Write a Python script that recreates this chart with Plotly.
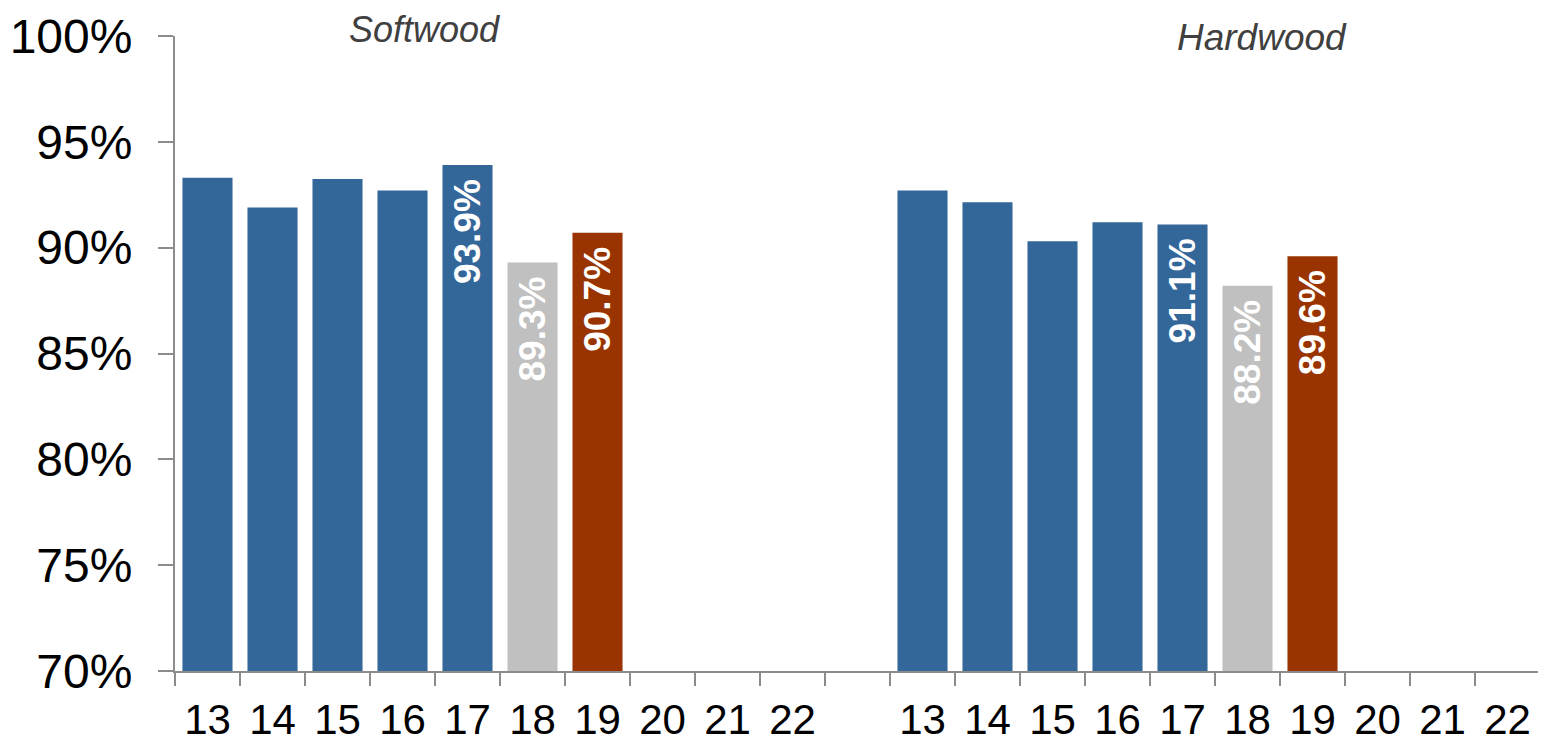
import plotly.graph_objects as go

# years shown on the axis for each group
years = ["13", "14", "15", "16", "17", "18", "19", "20", "21", "22"]

# share (%) per year, None = no bar yet
softwood = [93.3, 91.9, 93.25, 92.7, 93.9, 89.3, 90.7, None, None, None]
hardwood = [92.7, 92.15, 90.3, 91.2, 91.1, 88.2, 89.6, None, None, None]

# which bars get a value label
labelled = ["17", "18", "19"]

# y axis ticks
y_ticks = [70, 75, 80, 85, 90, 95, 100]

BLUE = "#336699"
GREY = "#C0C0C0"
RUST = "#993300"
bar_colors = [BLUE] * 5 + [GREY, RUST] + [BLUE] * 3

FONT = "Liberation Sans, Arial, sans-serif"
AXIS = "#8c8c8c"

fig = go.Figure()

# softwood on slots 0..9, a blank slot, hardwood on 11..20
sw_x = list(range(len(years)))
hw_x = [i + len(years) + 1 for i in range(len(years))]

for xs, vals in [(sw_x, softwood), (hw_x, hardwood)]:
    fig.add_trace(go.Bar(x=xs, y=vals, marker_color=bar_colors,
                         marker_line_width=0, showlegend=False))
    for xv, yr, v in zip(xs, years, vals):
        if yr in labelled and v is not None:
            fig.add_annotation(x=xv, y=v, text=f"<b>{v:.1f}%</b>", textangle=-90,
                               showarrow=False, yanchor="top", yshift=-12,
                               font=dict(family=FONT, size=37, color="white"))

# group titles
fig.add_annotation(x=0.183, y=1.011, xref="paper", yref="paper", text="<i>Softwood</i>",
                   xanchor="center", yanchor="middle", showarrow=False,
                   font=dict(family=FONT, size=36, color="#404040"))
fig.add_annotation(x=0.796, y=0.998, xref="paper", yref="paper", text="<i>Hardwood</i>",
                   xanchor="center", yanchor="middle", showarrow=False,
                   font=dict(family=FONT, size=37, color="#404040"))

fig.update_xaxes(range=[-0.5, 20.5], tickvals=sw_x + hw_x, ticktext=years + years,
                 ticks="", showgrid=False, zeroline=False, automargin=False,
                 showline=True, linecolor=AXIS, linewidth=2,
                 ticklabelstandoff=11,
                 tickfont=dict(family=FONT, size=42, color="black"),
                 minor=dict(tick0=-0.5, dtick=1, ticks="outside", ticklen=13,
                            tickcolor=AXIS, tickwidth=2, showgrid=False))
fig.update_yaxes(range=[70, 100], tickvals=y_ticks, ticktext=[f"{t}%" for t in y_ticks],
                 showgrid=False, zeroline=False, automargin=False,
                 showline=True, linecolor=AXIS, linewidth=2,
                 ticks="outside", ticklen=15, tickcolor=AXIS, tickwidth=2,
                 ticklabelstandoff=16,
                 tickfont=dict(family=FONT, size=48, color="black"))

# page body adds an 8px margin, so the figure is 8px smaller each way
fig.update_layout(width=1538, height=734, bargap=0.23,
                  plot_bgcolor="white", paper_bgcolor="white",
                  margin=dict(l=167, r=6, t=28, b=71))

fig.write_html("out.html")
